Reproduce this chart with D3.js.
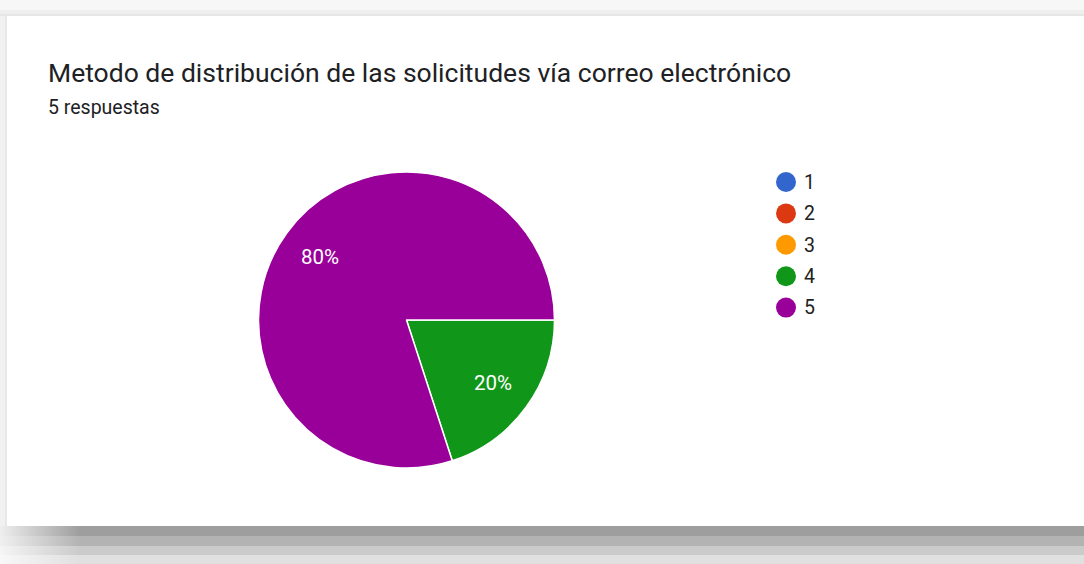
<!DOCTYPE html>
<html>
<head>
<meta charset="utf-8">
<script src="https://cdn.jsdelivr.net/npm/d3@7"></script>
<style>
  html, body { margin: 0; padding: 0; background: #f7f7f7; }
  svg { display: block; }
  text { font-family: Roboto, "Noto Sans", sans-serif; }
</style>
</head>
<body>
<svg id="chart" width="1084" height="564"></svg>
<script>
const title = "Metodo de distribución de las solicitudes vía correo electrónico";
const subtitle = "5 respuestas";
const categories = ["1", "2", "3", "4", "5"];
const values = [0, 0, 0, 1, 4];
const colors = ["#3366cc", "#dc3912", "#ff9900", "#109618", "#990099"];

const W = 1084, H = 564;
const svg = d3.select("#chart");
const defs = svg.append("defs");

// background / shadow framing
svg.append("rect").attr("x", 0).attr("y", 0).attr("width", W).attr("height", H).attr("fill", "#f7f7f7");
svg.append("rect").attr("x", 0).attr("y", 10).attr("width", W).attr("height", 6).attr("fill", "#efefef");
svg.append("rect").attr("x", 0).attr("y", 14).attr("width", W).attr("height", 2).attr("fill", "#e6e6e6");

const bands = [
  {y: 526, h: 10, c: "#9e9e9e", l: "#eeeeee"},
  {y: 536, h: 10, c: "#b3b3b3", l: "#f0f0f0"},
  {y: 546, h: 9,  c: "#cbcbcb", l: "#f5f5f5"},
  {y: 555, h: 9,  c: "#e0e0e0", l: "#f8f8f8"}
];
bands.forEach((b, i) => {
  const g = defs.append("linearGradient").attr("id", "band" + i)
    .attr("gradientUnits", "userSpaceOnUse").attr("x1", 0).attr("x2", 80).attr("y1", 0).attr("y2", 0);
  g.append("stop").attr("offset", 0).attr("stop-color", b.l);
  g.append("stop").attr("offset", 1).attr("stop-color", b.c);
  svg.append("rect").attr("x", 0).attr("y", b.y).attr("width", W).attr("height", b.h).attr("fill", "url(#band" + i + ")");
});
svg.append("rect").attr("x", 0).attr("y", 16).attr("width", 7).attr("height", 510).attr("fill", "#f1f1f1");
svg.append("rect").attr("x", 5).attr("y", 16).attr("width", 2).attr("height", 510).attr("fill", "#e8e8e8");

// card
svg.append("rect").attr("x", 7).attr("y", 16).attr("width", W - 7).attr("height", 510).attr("fill", "#ffffff");

// titles
svg.append("text").attr("x", 48).attr("y", 82).attr("fill", "#202124")
  .style("font-size", "26.5px").text(title);
svg.append("text").attr("x", 48).attr("y", 114).attr("fill", "#202124")
  .style("font-size", "19.5px").text(subtitle);

// pie
const cx = 406.5, cy = 320, r = 148;
const data = categories.map((c, i) => ({cat: c, value: values[i], color: colors[i]}));
const pie = d3.pie().sort(null).value(d => d.value)
  .startAngle(Math.PI / 2).endAngle(Math.PI / 2 + 2 * Math.PI);
const arcs = pie(data);
const arc = d3.arc().innerRadius(0).outerRadius(r);
const labelArc = d3.arc().innerRadius(107).outerRadius(107);
const total = d3.sum(values);

const pg = svg.append("g").attr("transform", `translate(${cx},${cy})`);
pg.selectAll("path").data(arcs.filter(d => d.data.value > 0)).join("path")
  .attr("d", arc).attr("fill", d => d.data.color)
  .attr("stroke", "#ffffff").attr("stroke-width", 1.5).attr("stroke-linejoin", "round");
pg.selectAll("text").data(arcs.filter(d => d.data.value > 0)).join("text")
  .attr("transform", d => `translate(${labelArc.centroid(d)})`)
  .attr("text-anchor", "middle").attr("dy", "0.35em")
  .attr("fill", "#ffffff").style("font-size", "20.5px")
  .text(d => Math.round(d.data.value / total * 100) + "%");

// legend
const lg = svg.append("g").attr("transform", "translate(786,182)");
const items = lg.selectAll("g").data(data).join("g")
  .attr("transform", (d, i) => `translate(0,${i * 31.4})`);
items.append("circle").attr("r", 10).attr("fill", d => d.color);
items.append("text").attr("x", 18).attr("dy", "0.35em").attr("fill", "#222222")
  .style("font-size", "19.5px").text(d => d.cat);
</script>
</body>
</html>
